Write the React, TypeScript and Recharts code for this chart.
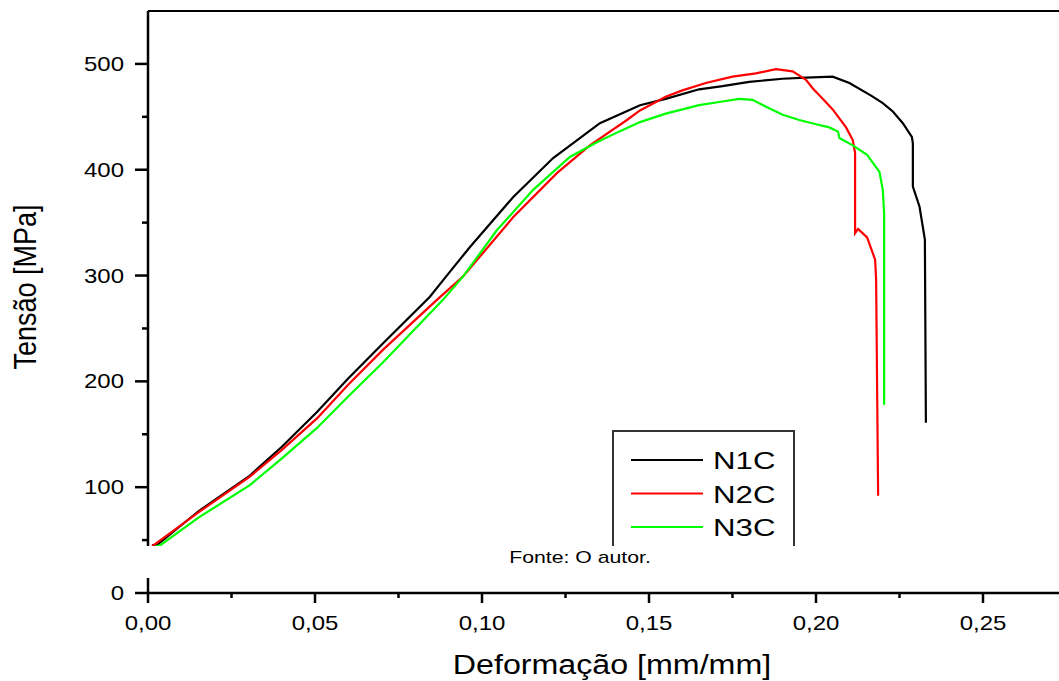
import { Legend, Line, LineChart, ReferenceLine, XAxis, YAxis } from "recharts";

const FONT = "'Liberation Sans', Arial, sans-serif";

// tensile curves, strain [mm/mm] vs stress [MPa]
const n1cStrain = [
  0.0012, 0.003, 0.015, 0.0305, 0.04, 0.0506, 0.06, 0.0704, 0.0844, 0.09, 0.0964,
  0.1093, 0.1213, 0.1353, 0.1473, 0.155, 0.165, 0.172, 0.18, 0.19, 0.197, 0.205,
  0.21, 0.2165, 0.22, 0.223, 0.226, 0.2287, 0.229, 0.229, 0.231, 0.2326, 0.2329,
];
const n1cStress = [
  45, 46, 77, 111, 138, 171, 203, 236, 280, 302, 327, 374, 411, 444, 461, 467, 476,
  479, 483, 486, 487, 488, 482, 470, 463, 455, 444, 431, 425, 384, 365, 334, 161,
];

const n2cStrain = [
  0.0012, 0.015, 0.0305, 0.04, 0.0506, 0.06, 0.0704, 0.0865, 0.0943, 0.1093, 0.1225,
  0.1323, 0.1434, 0.1473, 0.155, 0.16, 0.167, 0.175, 0.182, 0.188, 0.193, 0.197,
  0.199, 0.202, 0.205, 0.209, 0.211, 0.2117, 0.2117, 0.2126, 0.2153, 0.2177, 0.218,
  0.2186,
];
const n2cStress = [
  44, 76, 110, 135, 165, 197, 230, 277, 299, 355, 397, 423, 447, 456, 469, 475, 482,
  488, 491, 495, 493, 485, 477, 467, 457, 440, 428, 416, 340, 344, 336, 315, 296, 92,
];

const n3cStrain = [
  0.0015, 0.0036, 0.015, 0.0305, 0.04, 0.0506, 0.06, 0.0704, 0.0883, 0.0943, 0.1045,
  0.1153, 0.1263, 0.1344, 0.141, 0.1473, 0.155, 0.165, 0.171, 0.177, 0.181, 0.186,
  0.19, 0.195, 0.2, 0.204, 0.2066, 0.207, 0.211, 0.2153, 0.219, 0.22, 0.2204, 0.2204,
];
const n3cStress = [
  43, 45, 71, 102, 127, 156, 186, 218, 277, 299, 343, 381, 412, 426, 436, 445, 453,
  461, 464, 467, 466, 458, 452, 447, 443, 440, 436, 430, 423, 414, 398, 381, 359, 178,
];

const xTicks = [0, 0.025, 0.05, 0.075, 0.1, 0.125, 0.15, 0.175, 0.2, 0.225, 0.25, 0.275];
const yTicks = [0, 50, 100, 150, 200, 250, 300, 350, 400, 450, 500];

const toPoints = (xs: number[], ys: number[]) => xs.map((x, i) => ({ x, y: ys[i] }));

const XTick = (props: any) => {
  const { x, y, payload } = props;
  const v = payload.value as number;
  const major = Math.abs(v / 0.05 - Math.round(v / 0.05)) < 1e-6;
  return (
    <g>
      <line x1={x} x2={x} y1={y} y2={y + (major ? 10 : 5)} stroke="#000" strokeWidth={2.5} />
      {major && (
        <text
          transform={`translate(${x},${y + 37}) scale(1.2,1)`}
          textAnchor="middle"
          fontSize={20}
          fontFamily={FONT}
          fill="#000"
        >
          {v.toFixed(2).replace(".", ",")}
        </text>
      )}
    </g>
  );
};

const YTick = (props: any) => {
  const { x, y, payload } = props;
  const v = payload.value as number;
  const major = v % 100 === 0;
  return (
    <g>
      <line x1={x} x2={x - (major ? 13 : 6)} y1={y} y2={y} stroke="#000" strokeWidth={2.5} />
      {major && (
        <text
          transform={`translate(${x - 24},${y + 7}) scale(1.2,1)`}
          textAnchor="end"
          fontSize={20}
          fontFamily={FONT}
          fill="#000"
        >
          {v}
        </text>
      )}
    </g>
  );
};

const LegendBox = (props: any) => {
  const items = props.payload || [];
  return (
    <svg width={184} height={140} style={{ display: "block" }}>
      <rect x={1} y={1} width={181} height={137} fill="#fff" stroke="#333" strokeWidth={2} />
      {items.map((it: any, i: number) => (
        <g key={it.value}>
          <line x1={19} x2={91} y1={30 + i * 33.5} y2={30 + i * 33.5} stroke={it.color} strokeWidth={2.2} />
          <text
            transform={`translate(101,${39 + i * 33.5}) scale(1.3,1)`}
            fontSize={24}
            fontFamily={FONT}
            fill="#000"
          >
            {it.value}
          </text>
        </g>
      ))}
    </svg>
  );
};

export default function App() {
  return (
    <div
      style={{
        position: "absolute",
        left: 0,
        top: 0,
        width: 1059,
        height: 681,
        overflow: "hidden",
        background: "#fff",
      }}
    >
      <LineChart width={1075} height={681} margin={{ top: 11, right: 8.5, left: 88, bottom: 58 }}>
        <XAxis
          type="number"
          dataKey="x"
          domain={[0, 0.275]}
          ticks={xTicks}
          allowDataOverflow
          height={30}
          tickSize={0}
          tickMargin={0}
          tickLine={false}
          tick={<XTick />}
          axisLine={{ stroke: "#000", strokeWidth: 2.5 }}
          interval={0}
        />
        <YAxis
          type="number"
          domain={[0, 550]}
          ticks={yTicks}
          width={60}
          tickSize={0}
          tickMargin={0}
          tickLine={false}
          tick={<YTick />}
          axisLine={{ stroke: "#000", strokeWidth: 2.5 }}
          interval={0}
        />
        <ReferenceLine y={550} stroke="#000" strokeWidth={2} ifOverflow="visible" />
        <Legend
          layout="vertical"
          align="center"
          verticalAlign="middle"
          content={<LegendBox />}
          wrapperStyle={{ position: "absolute", left: 612, top: 430, width: 184, height: 140 }}
        />
        <Line
          data={toPoints(n1cStrain, n1cStress)}
          dataKey="y"
          name="N1C"
          type="linear"
          stroke="#000000"
          strokeWidth={2.2}
          dot={false}
          isAnimationActive={false}
        />
        <Line
          data={toPoints(n2cStrain, n2cStress)}
          dataKey="y"
          name="N2C"
          type="linear"
          stroke="#ff0000"
          strokeWidth={2.2}
          dot={false}
          isAnimationActive={false}
        />
        <Line
          data={toPoints(n3cStrain, n3cStress)}
          dataKey="y"
          name="N3C"
          type="linear"
          stroke="#00ff00"
          strokeWidth={2.2}
          dot={false}
          isAnimationActive={false}
        />
      </LineChart>
      <svg
        width={1059}
        height={681}
        style={{ position: "absolute", left: 0, top: 0, pointerEvents: "none" }}
      >
        <rect x={140} y={546} width={919} height={32} fill="#fff" />
        <text
          transform="translate(580,563) scale(1.25,1)"
          textAnchor="middle"
          fontSize={17}
          fontFamily={FONT}
          fill="#000"
        >
          Fonte: O autor.
        </text>
        <text
          transform="translate(612,674) scale(1.15,1)"
          textAnchor="middle"
          fontSize={28}
          fontFamily={FONT}
          fill="#000"
        >
          Deformação [mm/mm]
        </text>
        <text
          transform="translate(36,287) rotate(-90) scale(1,1.17)"
          textAnchor="middle"
          fontSize={27}
          fontFamily={FONT}
          fill="#000"
        >
          Tensão [MPa]
        </text>
      </svg>
    </div>
  );
}
